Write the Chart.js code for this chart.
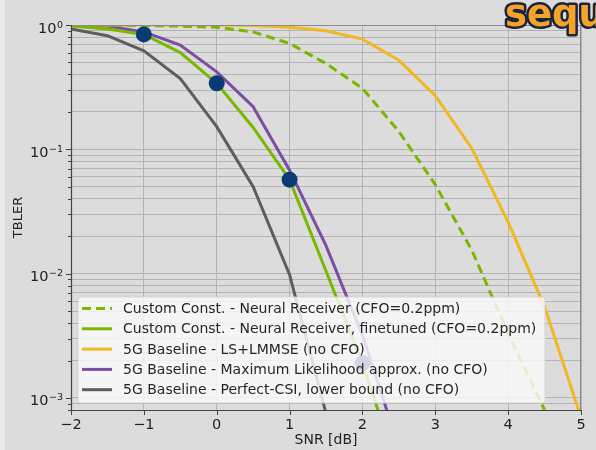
<!DOCTYPE html>
<html><head><meta charset="utf-8">
<script src="https://cdn.jsdelivr.net/npm/chart.js@4/dist/chart.umd.min.js"></script>
<style>html,body{margin:0;padding:0;background:#dcdcdc;overflow:hidden}#wrap{width:596px;height:450px;position:relative}canvas{display:block}</style>
</head><body><div id="wrap"><canvas id="c" width="596" height="450"></canvas></div>
<script>
// ---- data ----
const snr = [-2,-1.5,-1,-0.5,0,0.5,1,1.5,2,2.5,3,3.5,4,4.5,5];
const nrxCfo       = [1.0,1.0,0.99,0.98,0.96,0.88,0.71,0.49,0.31,0.139,0.052,0.0155,0.0033,0.0008];
const nrxFinetuned = [0.98,0.93,0.84,0.6,0.34,0.15,0.057,0.0105,0.0019,0.00025];
const lsLmmse      = [1.0,1.0,1.0,1.0,1.0,0.99,0.96,0.9,0.77,0.52,0.27,0.102,0.026,0.0054,0.0007];
const mlApprox     = [1.0,0.98,0.88,0.69,0.42,0.22,0.068,0.0168,0.0032,0.0004];
const perfectCsi   = [0.93,0.82,0.62,0.37,0.152,0.05,0.0098,0.00075];
const markerSnr    = [-1,0,1,2];
const markerBler   = [0.84,0.34,0.057,0.0019];
const labels = [
  'Custom Const. - Neural Receiver (CFO=0.2ppm)',
  'Custom Const. - Neural Receiver, finetuned (CFO=0.2ppm)',
  '5G Baseline - LS+LMMSE (no CFO)',
  '5G Baseline - Maximum Likelihood approx. (no CFO)',
  '5G Baseline - Perfect-CSI, lower bound (no CFO)'
];
const xTicks = [-2,-1,0,1,2,3,4,5];
const yMajor = [1e-3,1e-2,1e-1,1];
const yExponents = ['\u22123','\u22122','\u22121','0'];

const GREEN='#78b800', YEL='#f0b823', PURP='#7b4ea3', GRAY='#5e5e5e', BLUE='#0b3b73';
function pts(xs, ys){ return ys.map((y,i)=>({x:xs[i],y:y})); }

const datasets = [
  {label:labels[0], data:pts(snr,nrxCfo), borderColor:GREEN, borderDash:[9,5], borderWidth:3},
  {label:labels[1], data:pts(snr,nrxFinetuned), borderColor:GREEN, borderWidth:3},
  {label:labels[2], data:pts(snr,lsLmmse), borderColor:YEL, borderWidth:3},
  {label:labels[3], data:pts(snr,mlApprox), borderColor:PURP, borderWidth:3},
  {label:labels[4], data:pts(snr,perfectCsi), borderColor:GRAY, borderWidth:3},
].map(d=>Object.assign(d,{pointRadius:0,fill:false,tension:0,order:2}));
datasets.push({label:'markers', data:pts(markerSnr,markerBler), showLine:false,
  pointRadius:8, pointBackgroundColor:BLUE, pointBorderColor:BLUE, pointBorderWidth:0, order:1});

const framePlugin = {
  id:'frame',
  beforeDraw(chart){
    const c=chart.ctx; c.save();
    c.fillStyle='#dcdcdc'; c.fillRect(0,0,chart.width,chart.height);
    c.fillStyle='#ececec'; c.fillRect(0,0,5,chart.height);
    c.restore();
  },
  afterDatasetsDraw(chart){
    const c=chart.ctx, a=chart.chartArea, xs=chart.scales.x, ys=chart.scales.y;
    c.save();
    // frame
    c.strokeStyle='#8a8a8a'; c.lineWidth=1;
    c.beginPath(); c.moveTo(a.left,a.top+0.5); c.lineTo(a.right-0.5,a.top+0.5); c.lineTo(a.right-0.5,a.bottom); c.stroke();
    c.strokeStyle='#444'; c.lineWidth=1.2;
    c.beginPath(); c.moveTo(a.left+0.5,a.top); c.lineTo(a.left+0.5,a.bottom+0.5); c.lineTo(a.right,a.bottom+0.5); c.stroke();
    // ticks
    c.strokeStyle='#444'; c.lineWidth=1;
    ys.ticks.forEach(t=>{
      const p=Math.round(ys.getPixelForValue(t.value))+0.5;
      const major=Math.abs(Math.log10(t.value)-Math.round(Math.log10(t.value)))<1e-9;
      c.beginPath(); c.moveTo(a.left-(major?5:3),p); c.lineTo(a.left,p); c.stroke();
    });
    xs.ticks.forEach(t=>{
      const p=Math.round(xs.getPixelForValue(t.value))+0.5;
      c.beginPath(); c.moveTo(p,a.bottom); c.lineTo(p,a.bottom+5); c.stroke();
    });
    // y tick labels 10^k
    c.fillStyle='#222'; c.textBaseline='alphabetic'; c.textAlign='right';
    yMajor.forEach((v,i)=>{
      const p=ys.getPixelForValue(v), right=a.left-8;
      c.font='9.5px "DejaVu Sans"';
      const ew=c.measureText(yExponents[i]).width;
      c.fillText(yExponents[i], right, p+2.5);
      c.font='14.5px "DejaVu Sans"';
      c.fillText('10', right-ew-0.5, p+7.5);
    });
    c.textAlign='left';
    // legend
    const lx=78, ly=297, lw=467, lh=106;
    c.fillStyle='rgba(250,250,250,0.82)';
    c.strokeStyle='rgba(210,210,210,0.9)';
    c.beginPath(); c.roundRect(lx,ly,lw,lh,3); c.fill(); c.stroke();
    c.font='14px "DejaVu Sans"'; c.textBaseline='middle'; c.fillStyle='#262626';
    for(let i=0;i<5;i++){
      const d=chart.data.datasets[i], yy=ly+11.5+i*20.3;
      c.save(); c.strokeStyle=d.borderColor; c.lineWidth=3; c.setLineDash(d.borderDash||[]);
      c.beginPath(); c.moveTo(lx+4,yy); c.lineTo(lx+34,yy); c.stroke(); c.restore();
      c.fillText(d.label, lx+45, yy+1);
    }
    c.restore();
  },
  afterDraw(chart){
    const c=chart.ctx; c.save();
    c.font='bold 37px "DejaVu Sans"'; c.textBaseline='alphabetic';
    c.lineJoin='round'; c.lineWidth=5; c.strokeStyle='#1c2340';
    c.strokeText('sequence',505,26);
    c.fillStyle='#f5a42a'; c.fillText('sequence',505,26);
    c.restore();
  }
};

Chart.defaults.font.family='"DejaVu Sans"';
Chart.defaults.color='#222';
new Chart(document.getElementById('c'),{
  type:'line',
  data:{datasets},
  options:{
    responsive:false, animation:false, events:[],
    layout:{padding:{top:25,right:15,left:0,bottom:0}},
    plugins:{legend:{display:false},tooltip:{enabled:false}},
    scales:{
      x:{type:'linear',min:-2,max:5,
        afterBuildTicks(s){ s.ticks = xTicks.map(v=>({value:v})); },
        afterFit(s){ s.height=40; },
        ticks:{font:{size:14.5},padding:7,maxRotation:0,callback:v=>(v<0?'\u2212'+Math.abs(v):String(v))},
        grid:{color:'#b3b3b3',lineWidth:1,drawTicks:false},
        border:{display:false},
        title:{display:true,text:'SNR [dB]',font:{size:14},padding:{top:0,bottom:1}}
      },
      y:{type:'logarithmic',min:8e-4,max:1,
        afterBuildTicks(s){
          const t=[];
          for(let k=-4;k<=0;k++) for(let m=1;m<=9;m++){ const v=m*Math.pow(10,k); if(v>=s.min*0.9999 && v<=s.max*1.0001) t.push({value:v}); }
          s.ticks=t;
        },
        afterFit(s){ s.width=71; },
        ticks:{display:true,font:{size:14},padding:8,autoSkip:false,callback:()=>''},
        grid:{color:'#b3b3b3',lineWidth:1,drawTicks:false},
        border:{display:false},
        title:{display:true,text:'TBLER',font:{size:13},padding:{top:11,bottom:0}}
      }
    }
  },
  plugins:[framePlugin]
});
</script></body></html>
